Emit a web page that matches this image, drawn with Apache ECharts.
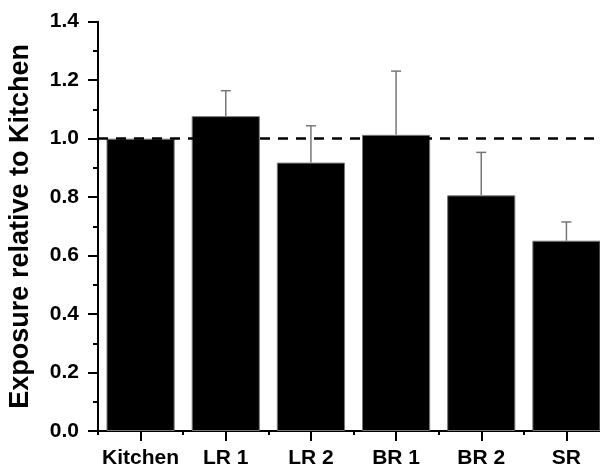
<!DOCTYPE html>
<html>
<head>
<meta charset="utf-8">
<script src="https://cdn.jsdelivr.net/npm/echarts@6/dist/echarts.min.js"></script>
<style>html,body{margin:0;padding:0;background:#fff;}#chart{width:600px;height:471px;}</style>
</head>
<body>
<div id="chart"></div>
<script>
const categories = ['Kitchen', 'LR 1', 'LR 2', 'BR 1', 'BR 2', 'SR'];
const means = [1.0, 1.077, 0.918, 1.013, 0.806, 0.651];
const upperErrors = [0, 0.087, 0.126, 0.218, 0.147, 0.064];
const yTicks = [0, 0.2, 0.4, 0.6, 0.8, 1.0, 1.2, 1.4];
const referenceLevel = 1.0;

const FONT = '"Liberation Sans", Arial, sans-serif';
const chart = echarts.init(document.getElementById('chart'), null, {renderer: 'canvas'});

const errData = categories.map((c, i) => [i, means[i], means[i] + upperErrors[i]]);

chart.setOption({
  animation: false,
  backgroundColor: '#fff',
  grid: {left: 98, width: 511, top: 21.7, bottom: 40, containLabel: false, outerBoundsMode: 'none'},
  xAxis: [{
    type: 'category',
    data: categories,
    axisLine: {show: true, lineStyle: {color: '#000', width: 2}},
    axisTick: {show: true, alignWithLabel: true, interval: 0, length: 10, lineStyle: {color: '#000', width: 2}},
    axisLabel: {interval: 0, color: '#000', fontFamily: FONT, fontWeight: 'bold', fontSize: 21, margin: 17},
    splitLine: {show: false}
  }, {
    type: 'category',
    data: categories,
    position: 'bottom',
    axisLine: {show: false},
    axisTick: {show: true, interval: 0, length: 4, lineStyle: {color: '#000', width: 2}},
    axisLabel: {show: false},
    splitLine: {show: false}
  }],
  yAxis: {
    type: 'value',
    min: yTicks[0],
    max: yTicks[yTicks.length - 1],
    interval: 0.2,
    name: 'Exposure relative to Kitchen',
    nameLocation: 'middle',
    nameGap: 64,
    nameTextStyle: {color: '#000', fontFamily: FONT, fontWeight: 'bold', fontSize: 27},
    axisLine: {show: true, lineStyle: {color: '#000', width: 2}},
    axisTick: {show: true, length: 10, lineStyle: {color: '#000', width: 2}},
    minorTick: {show: true, splitNumber: 2, length: 5, lineStyle: {color: '#000', width: 2}},
    axisLabel: {color: '#000', fontFamily: FONT, fontWeight: 'bold', fontSize: 21, margin: 19,
      formatter: v => v.toFixed(1)},
    splitLine: {show: false}
  },
  series: [{
    type: 'line',
    data: [],
    z: 1,
    silent: true,
    markLine: {
      symbol: 'none',
      silent: true,
      label: {show: false},
      lineStyle: {color: '#000', type: [10, 8], width: 2.5},
      data: [{yAxis: referenceLevel}]
    }
  }, {
    type: 'bar',
    data: means,
    z: 2,
    barCategoryGap: '20%',
    itemStyle: {color: '#000', borderColor: '#777', borderWidth: 1}
  }, {
    type: 'custom',
    z: 3,
    data: errData,
    renderItem: function (params, api) {
      const i = api.value(0);
      const lo = api.coord([i, api.value(1)]);
      const hi = api.coord([i, api.value(2)]);
      if (Math.abs(lo[1] - hi[1]) < 0.5) return null;
      const style = {stroke: '#777', lineWidth: 1.5};
      return {
        type: 'group',
        children: [
          {type: 'line', shape: {x1: lo[0], y1: lo[1], x2: hi[0], y2: hi[1]}, style: style},
          {type: 'line', shape: {x1: hi[0] - 5, y1: hi[1], x2: hi[0] + 5, y2: hi[1]}, style: style}
        ]
      };
    }
  }]
});
</script>
</body>
</html>
